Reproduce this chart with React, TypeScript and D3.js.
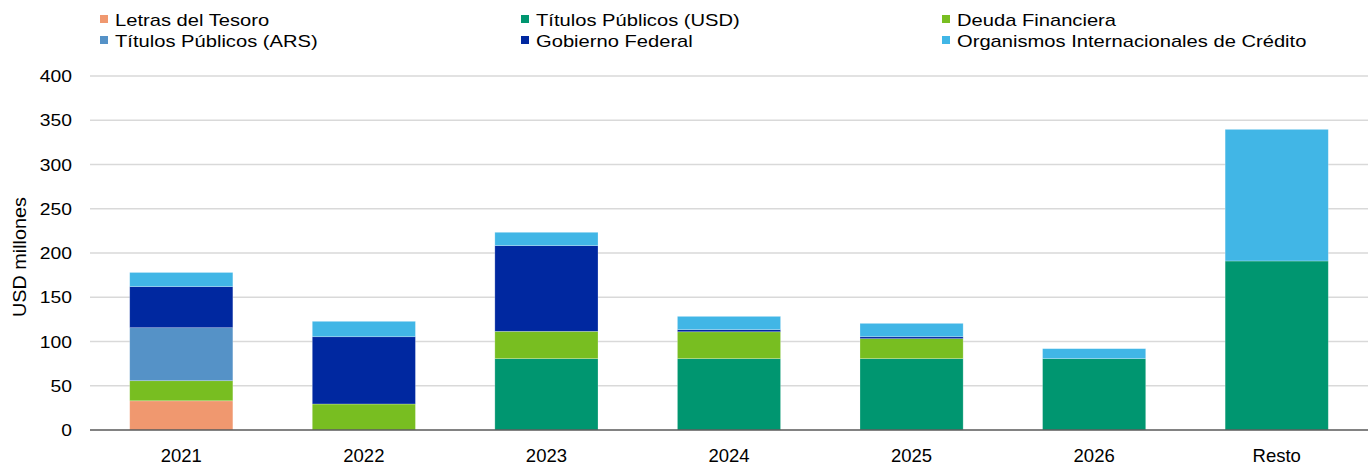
import React from "react";
import * as d3 from "d3";

const categories = ["2021", "2022", "2023", "2024", "2025", "2026", "Resto"];
const seriesNames = [
  "Letras del Tesoro",
  "Títulos Públicos (USD)",
  "Deuda Financiera",
  "Títulos Públicos (ARS)",
  "Gobierno Federal",
  "Organismos Internacionales de Crédito",
];
const letras = [33, 0, 0, 0, 0, 0, 0];
const titulosUSD = [0, 0, 80.6, 80.6, 80.6, 80.6, 191];
const deudaFin = [22.7, 29.4, 30.9, 30.4, 22.6, 0, 0];
const titulosARS = [59.9, 0, 0, 0, 0, 0, 0];
const gobFed = [46.4, 76, 96.8, 2.4, 2.2, 0, 0];
const organismos = [16, 17.4, 15.1, 15, 15.1, 11.3, 148.7];
const yTicks = [0, 50, 100, 150, 200, 250, 300, 350, 400];

const colors = ["#F0986F", "#009670", "#78BE21", "#5592C7", "#0028A0", "#41B6E6"];
const stackOrder = [letras, titulosUSD, deudaFin, titulosARS, gobFed, organismos];
// legend layout: [seriesIndex] in columns
const legendGrid = [
  [0, 3],
  [1, 4],
  [2, 5],
];
const FONT = "'Liberation Sans', Arial, sans-serif";

export default function App() {
  const W = 1369;
  const H = 465;
  const x = d3.scaleBand<string>().domain(categories).range([90, 1368]).paddingInner(0.435).paddingOuter(0.2175);
  const y = d3.scaleLinear().domain([0, 400]).range([430, 76]);

  const rows = categories.map((c, i) => {
    const o: any = { cat: c };
    stackOrder.forEach((s, k) => (o["s" + k] = s[i]));
    return o;
  });
  const stack = d3.stack<any>().keys(stackOrder.map((_, k) => "s" + k))(rows);

  const legendX = [100, 521, 942];
  const legendY = [25.7, 46.7];

  return (
    <svg width={W} height={H} style={{ position: "absolute", left: 0, top: 0, background: "#fff" }}>
      {yTicks.slice(1).map((t) => (
        <line key={t} x1={90} x2={1368} y1={y(t)} y2={y(t)} stroke="#d9d9d9" strokeWidth={1.5} />
      ))}
      {stack.map((layer, k) => (
        <g key={k} fill={colors[k]}>
          {layer.map((d, i) =>
            d[1] - d[0] > 0 ? (
              <rect
                key={i}
                x={x(categories[i])}
                width={x.bandwidth()}
                y={y(d[1])}
                height={y(d[0]) - y(d[1])}
                stroke="#ffffff"
                strokeOpacity={0.35}
                strokeWidth={0.7}
              />
            ) : null
          )}
        </g>
      ))}
      <line x1={90} x2={1368} y1={y(0)} y2={y(0)} stroke="#595959" strokeWidth={1.5} />
      {yTicks.map((t) => (
        <text
          key={t}
          transform={`translate(72,${y(t) + 6}) scale(1.17,1)`}
          textAnchor="end"
          fontFamily={FONT}
          fontSize={16.5}
          fill="#000"
        >
          {t}
        </text>
      ))}
      {categories.map((c) => (
        <text
          key={c}
          x={(x(c) as number) + x.bandwidth() / 2}
          y={461.5}
          textAnchor="middle"
          fontFamily={FONT}
          fontSize={18.5}
          fill="#000"
        >
          {c}
        </text>
      ))}
      <text
        transform={`translate(26,257) rotate(-90) scale(1.1,1)`}
        textAnchor="middle"
        fontFamily={FONT}
        fontSize={18}
        fill="#000"
      >
        USD millones
      </text>
      {legendGrid.map((col, ci) =>
        col.map((si, ri) => (
          <g key={si}>
            <rect x={legendX[ci]} y={legendY[ri] - 10.7} width={8} height={8} fill={colors[si]} />
            <text
              transform={`translate(${legendX[ci] + 15},${legendY[ri]}) scale(1.26,1)`}
              fontFamily={FONT}
              fontSize={16}
              fill="#000"
            >
              {seriesNames[si]}
            </text>
          </g>
        ))
      )}
    </svg>
  );
}
